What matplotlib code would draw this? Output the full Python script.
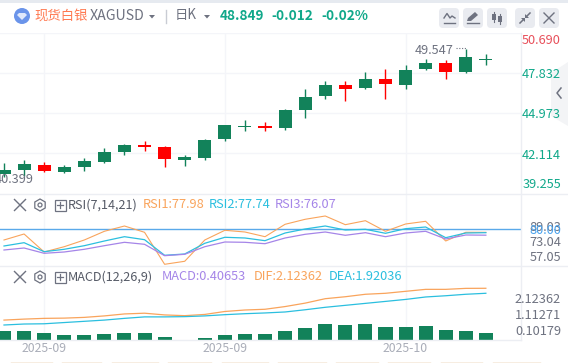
import numpy as np
import matplotlib
matplotlib.use("Agg")
import matplotlib.pyplot as plt
from matplotlib.patches import Circle, FancyBboxPatch, Polygon, Rectangle, RegularPolygon

plt.rcParams['font.family'] = ['Noto Sans CJK SC', 'DejaVu Sans']

W, H = 568, 363

# daily candles
opens = [40.61, 40.90, 41.26, 40.76, 41.11, 41.47, 42.18, 42.69, 42.54, 41.61, 41.76, 43.11, 43.97,
         44.04, 43.90, 45.19, 46.19, 46.97, 46.76, 47.40, 46.97, 48.12, 48.55, 47.90, 48.78]
highs = [41.40, 41.61, 41.47, 41.26, 41.76, 42.47, 42.76, 42.97, 42.61, 41.97, 43.11, 44.11, 44.47,
         44.33, 45.26, 46.69, 47.26, 47.26, 47.90, 48.12, 48.40, 48.83, 48.76, 49.547, 49.19]
lows = [40.399, 40.47, 40.76, 40.68, 40.83, 41.40, 41.97, 42.26, 41.11, 41.18, 41.61, 42.97, 43.69,
        43.69, 43.76, 44.62, 45.97, 45.83, 46.69, 45.97, 46.69, 48.05, 47.40, 47.83, 48.40]
closes = [40.90, 41.33, 40.83, 41.11, 41.54, 42.18, 42.69, 42.54, 41.68, 41.83, 43.04, 44.11, 44.04,
          43.90, 45.19, 46.12, 46.97, 46.69, 47.40, 47.05, 48.05, 48.55, 47.90, 48.98, 48.849]

rsi1 = [72.87, 76.87, 64.87, 68.40, 72.87, 78.67, 82.20, 78.00, 56.67, 58.67, 72.87, 79.33, 78.20,
        75.07, 83.33, 86.67, 88.87, 83.07, 85.73, 78.67, 83.53, 85.33, 72.20, 78.00, 77.98]
rsi2 = [68.87, 71.07, 65.07, 66.67, 69.07, 72.20, 75.07, 73.07, 62.67, 63.53, 70.67, 74.67, 74.20,
        72.40, 77.53, 80.20, 82.20, 79.53, 80.00, 77.33, 80.40, 81.53, 74.40, 77.53, 77.74]
rsi3 = [66.20, 67.53, 64.00, 64.87, 66.67, 69.07, 71.33, 70.00, 62.40, 63.33, 68.40, 71.53, 71.33,
        70.40, 74.20, 76.67, 78.20, 76.00, 77.73, 75.07, 77.53, 78.67, 73.53, 76.20, 76.07]

dif = [0.83, 0.87, 0.90, 0.91, 0.94, 1.00, 1.08, 1.11, 1.04, 1.01, 1.06, 1.18, 1.24,
       1.27, 1.38, 1.52, 1.70, 1.78, 1.88, 1.92, 2.00, 2.08, 2.08, 2.12, 2.12362]
dea = [0.63, 0.67, 0.68, 0.73, 0.78, 0.83, 0.90, 0.96, 0.96, 0.97, 1.00, 1.05, 1.09,
       1.12, 1.16, 1.25, 1.35, 1.43, 1.51, 1.59, 1.67, 1.77, 1.82, 1.88, 1.92036]
macd = [0.52, 0.52, 0.42, 0.31, 0.31, 0.37, 0.42, 0.42, 0.19, 0.00, 0.13, 0.31, 0.37,
        0.36, 0.54, 0.72, 0.95, 0.89, 0.95, 0.77, 0.77, 0.83, 0.60, 0.54, 0.40653]

date_ticks = [2, 11, 20]
date_labels = ['2025-09', '2025-09', '2025-10']
price_grid = [50.690, 47.832, 44.973, 42.114]
rsi_level = 80

GREEN = '#12825a'
RED = '#ff0000'
GRID = '#f4f5f9'
BORDER = '#eceef3'
ORANGE = '#f9a45c'
CYAN = '#2bbfdf'
PURPLE = '#a585e8'
TEAL = '#10a88a'
GRAY = '#6e7280'

fig = plt.figure(figsize=(W / 100, H / 100), dpi=100, facecolor='white')


def pane(top, bottom):
    ax = fig.add_axes([0, 1 - bottom / H, 521 / W, (bottom - top) / H])
    ax.set_xlim(-0.199, 25.75)
    ax.set_xticks(date_ticks)
    ax.set_xticklabels([])
    ax.tick_params(length=0)
    ax.set_yticks([])
    ax.grid(True, axis='x', color=GRID, lw=1)
    ax.set_axisbelow(True)
    for s in ax.spines.values():
        s.set_visible(False)
    return ax


x = np.arange(len(closes))

# price pane
ax = pane(33, 194)
ax.set_ylim(39.18, 50.69)
ax.set_yticks(price_grid)
ax.set_yticklabels([])
ax.grid(True, axis='y', color=GRID, lw=1)
colors = [GREEN if c >= o else RED for o, c in zip(opens, closes)]
ax.vlines(x, lows, highs, colors=colors, lw=1)
body = np.abs(np.array(closes) - np.array(opens))
ax.bar(x, body, bottom=np.minimum(opens, closes), width=0.65, color=colors, lw=0, zorder=3)

# rsi pane
ax_r = pane(194, 266)
ax_r.set_ylim(55.53, 103.53)
ax_r.axhline(rsi_level, color='#5aa9ea', lw=1)
ax_r.plot(x, rsi1, color=ORANGE, lw=0.8)
ax_r.plot(x, rsi2, color=CYAN, lw=0.9)
ax_r.plot(x, rsi3, color=PURPLE, lw=0.9)

# macd pane
ax_m = pane(266, 340)
ax_m.set_ylim(0.02, 3.03)
ax_m.plot(x, dif, color=ORANGE, lw=0.9)
ax_m.plot(x, dea, color=CYAN, lw=0.9)
ax_h = ax_m.twinx()
ax_h.set_ylim(0, 4.30)
ax_h.set_yticks([])
for s in ax_h.spines.values():
    s.set_visible(False)
ax_h.bar(x, macd, width=0.7, color=GREEN, lw=0)

# overlay in pixel coordinates for the chrome around the chart
ui = fig.add_axes([0, 0, 1, 1], zorder=10)
ui.set_xlim(0, W)
ui.set_ylim(H, 0)
ui.axis('off')
ui.patch.set_alpha(0)

ui.add_patch(Rectangle((0, 0), W, 2.5, color='#e6eaf0', lw=0))
for yy in (194, 266):
    ui.plot([0, W], [yy, yy], color=BORDER, lw=1)
ui.plot([0, 521], [340, 340], color=BORDER, lw=1)
ui.plot([521, 521], [33, 340], color=BORDER, lw=1)

# collapse tab
ui.add_patch(Polygon([(568, 62), (551, 73), (551, 116), (568, 126)], color='#f3f4f6', lw=0))
ui.plot([561, 557, 561], [88, 93, 98], color=GRAY, lw=1.1)

# title row
ui.add_patch(Circle((22, 16), 8, color='#6a94ea', lw=0))
ui.add_patch(Polygon([(17, 15), (19, 13), (25, 13), (27, 15), (22, 20)], color='#dfe8fb', lw=0))
ui.text(34, 15.5, '现货白银', color='#ff7a52', fontsize=9.6, va='center', ha='left')
ui.text(90, 16.5, 'XAGUSD', color=GRAY, fontsize=10.2, va='center', ha='left')
ui.add_patch(Polygon([(149, 15), (155, 15), (152, 18.5)], color=GRAY, lw=0))
ui.plot([165.5, 165.5], [10, 23], color='#c9ccd4', lw=1)
ui.text(175, 15.5, '日K', color=GRAY, fontsize=9.6, va='center', ha='left')
ui.add_patch(Polygon([(204, 15), (210, 15), (207, 18.5)], color=GRAY, lw=0))
ui.text(220, 15.5, '48.849', color=TEAL, fontsize=9.8, fontweight='bold', va='center', ha='left')
ui.text(271, 15.5, '-0.012', color=TEAL, fontsize=9.8, fontweight='bold', va='center', ha='left')
ui.text(321, 15.5, '-0.02%', color=TEAL, fontsize=9.8, fontweight='bold', va='center', ha='left')

# toolbar buttons
for bx in (439, 463, 487, 515, 539):
    ui.add_patch(FancyBboxPatch((bx + 3, 11), 14, 14, boxstyle='round,pad=3,rounding_size=4',
                                fc='#e9ebf0', ec='none'))
ui.plot([444, 455], [22.5, 22.5], color=GRAY, lw=1)
ui.plot([444, 447, 450, 452, 455], [18, 13.5, 18, 16, 18], color=GRAY, lw=1)
ui.add_patch(Polygon([(467, 21), (468, 18), (475, 12), (478, 15), (471, 21)], color=GRAY, lw=0))
ui.plot([467, 479], [23, 23], color=GRAY, lw=1)
for cx, t, b in ((494, 14, 20), (500, 16, 22)):
    ui.plot([cx, cx], [t - 2, b + 2], color=GRAY, lw=0.8)
    ui.add_patch(Rectangle((cx - 2, t), 4, b - t, color=GRAY, lw=0))
ui.plot([520, 524], [23, 19], color=GRAY, lw=1.1)
ui.plot([526, 530], [17, 13], color=GRAY, lw=1.1)
ui.add_patch(Polygon([(521, 18), (525, 18), (525, 22)], color=GRAY, lw=0))
ui.add_patch(Polygon([(525, 14), (525, 18), (529, 18)], color=GRAY, lw=0))
ui.plot([544, 554], [13, 23], color=GRAY, lw=1)
ui.plot([544, 554], [23, 13], color=GRAY, lw=1)

# pane headers
for yy in (205, 277):
    ui.plot([14.5, 25.5], [yy - 5.5, yy + 5.5], color=GRAY, lw=1)
    ui.plot([14.5, 25.5], [yy + 5.5, yy - 5.5], color=GRAY, lw=1)
    ui.add_patch(RegularPolygon((40, yy), 6, radius=6, fill=False, ec=GRAY, lw=0.9))
    ui.add_patch(Circle((40, yy), 2, fill=False, ec=GRAY, lw=0.9))
    ui.add_patch(Rectangle((54.5, yy - 5.5), 11, 11, fill=False, ec=GRAY, lw=0.9))
    ui.plot([57, 63], [yy, yy], color=GRAY, lw=0.9)
    ui.plot([60, 60], [yy - 3, yy + 3], color=GRAY, lw=0.9)

ui.text(68, 205, 'RSI(7,14,21)', color='#555a66', fontsize=9.1, va='center')
ui.text(143, 205, 'RSI1:77.98', color=ORANGE, fontsize=9.2, va='center')
ui.text(209, 205, 'RSI2:77.74', color=CYAN, fontsize=9.2, va='center')
ui.text(275, 205, 'RSI3:76.07', color=PURPLE, fontsize=9.2, va='center')
ui.text(68, 277, 'MACD(12,26,9)', color='#555a66', fontsize=9.1, va='center')
ui.text(162, 277, 'MACD:0.40653', color=PURPLE, fontsize=9.2, va='center')
ui.text(254, 277, 'DIF:2.12362', color=ORANGE, fontsize=9.2, va='center')
ui.text(329, 277, 'DEA:1.92036', color=CYAN, fontsize=9.2, va='center')

# right hand labels
price_labels = [('50.690', 40.3, '#e8505b'), ('47.832', 74.7, TEAL), ('44.973', 114.3, TEAL),
                ('42.114', 155.5, TEAL), ('39.255', 184.5, TEAL), ('89.03', 227.3, GRAY),
                ('80.00', 230.7, '#4aa3ee'), ('73.04', 242.3, GRAY), ('57.05', 257.7, GRAY),
                ('2.12362', 299.7, GRAY), ('1.11271', 315.7, GRAY), ('0.10179', 331.3, GRAY)]
for s, yy, c in price_labels:
    ui.text(561, yy, s, color=c, fontsize=9.2, va='center', ha='right')

# high/low marks
ui.text(415, 50, '49.547', color=GRAY, fontsize=9.2, va='center', ha='left')
ui.plot([456, 466], [47.5, 47.5], color=GRAY, lw=0.8, ls=(0, (1, 1.5)))
ui.text(34, 179.5, '40.399', color=GRAY, fontsize=9.2, va='center', ha='right', clip_on=True)

# date labels
for t, s in zip(date_ticks, date_labels):
    ui.text(4 + 20.08 * t, 349, s, color='#a9adb8', fontsize=8.8, va='center', ha='center')

# cut off row at the very bottom
for a, b in ((11, 52), (62, 101), (112, 158), (168, 211), (222, 268), (278, 326),
             (336, 378), (388, 430), (441, 482), (493, 540)):
    ui.plot([a, b], [362.5, 362.5], color='#d9a86a', lw=1)

fig.savefig('out.png', dpi=100)
